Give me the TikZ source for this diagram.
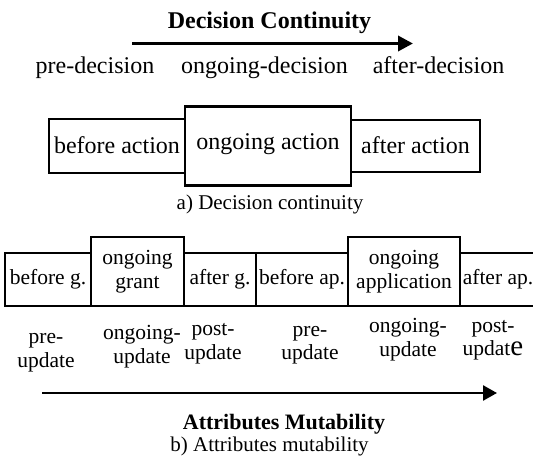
\documentclass[tikz,border=0pt]{standalone}
\usepackage{fontspec}
\setmainfont{Liberation Serif}
\usetikzlibrary{positioning,arrows.meta}

\tikzset{
  phase/.style={rectangle, draw, line width=2.5pt, inner sep=0pt, outer sep=0pt, align=center},
  bigtxt/.style={font=\fontsize{24}{26}\selectfont},
  smalltxt/.style={font=\fontsize{21.5}{23.5}\selectfont},
  capt/.style={font=\fontsize{21}{24}\selectfont},
  headtxt/.style={font=\fontsize{#1}{26}\selectfont\bfseries},
}

\begin{document}
\begin{tikzpicture}[x=1pt, y=-1pt]
    \useasboundingbox (0,0) rectangle (533,457);

    % Decision continuity
    \node [headtxt=24, anchor=base] (dctitle) at (269.5,29) {Decision Continuity};
    \coordinate (dcstart) at (132,43.5);
    \coordinate (dcend) at (413,43.5);
    \draw [line width=3.5pt, -{Triangle[length=15pt,width=15pt]}] (dcstart) -- (dcend);

    \node [bigtxt, anchor=base] (predec) at (95,74) {pre-decision};
    \node [bigtxt, anchor=base] (ongodec) at (264.5,74) {ongoing-decision};
    \node [bigtxt, anchor=base] (aftdec) at (438.5,74) {after-decision};

    % Action boxes
    \node [phase, bigtxt, text height=17pt, text depth=1pt, minimum width=136pt, minimum height=54pt] (bact) at (117,146) {before action};
    \node [phase, bigtxt, text height=17pt, text depth=9pt, minimum width=166pt, minimum height=79pt, right=0pt of bact] (oact) {ongoing action};
    \node [phase, bigtxt, text height=17pt, text depth=1pt, minimum width=129pt, minimum height=52pt, right=0pt of oact] (aact) {after action};

    \node [capt, anchor=base] (capa) at (270,210) {a) Decision continuity};

    % Grant and application boxes
    \node [phase, smalltxt, minimum width=86pt, minimum height=53pt, anchor=south west] (bgr) at (5,306) {before g.};
    \node [phase, smalltxt, minimum width=93pt, minimum height=69pt, anchor=south west] (ogr) at (bgr.south east) {ongoing\\grant};
    \node [phase, smalltxt, minimum width=72pt, minimum height=53pt, anchor=south west] (agr) at (ogr.south east) {after g.};
    \node [phase, smalltxt, minimum width=92pt, minimum height=53pt, anchor=south west] (bap) at (agr.south east) {before ap.};
    \node [phase, smalltxt, minimum width=112pt, minimum height=69pt, anchor=south west] (oap) at (bap.south east) {ongoing\\application};
    \node [phase, smalltxt, minimum width=76pt, minimum height=53pt, anchor=south west] (aap) at (oap.south east) {after ap.};

    % Updates
    \node [smalltxt, align=center] (upd1) at (46,352.5) {pre-\\update};
    \node [smalltxt, align=center] (upd2) at (142,346.5) {ongoing-\\update};
    \node [smalltxt, align=center] (upd3) at (213,343.5) {post-\\update};
    \node [smalltxt, align=center] (upd4) at (310,345) {pre-\\update};
    \node [smalltxt, align=center] (upd5) at (408,339.5) {ongoing-\\update};
    \node [smalltxt, align=center] (upd6) at (493,340) {post-\\updat{\fontsize{29}{29}\selectfont e}};

    % Attributes mutability
    \coordinate (amstart) at (42,393);
    \coordinate (amend) at (497,393);
    \draw [line width=2.5pt, -{Triangle[length=14pt,width=15pt]}] (amstart) -- (amend);
    \node [headtxt=22, anchor=base] (amtitle) at (284,429) {Attributes Mutability};
    \node [capt, anchor=base] (capb) at (269.5,451) {b) Attributes mutability};
\end{tikzpicture}
\end{document}
